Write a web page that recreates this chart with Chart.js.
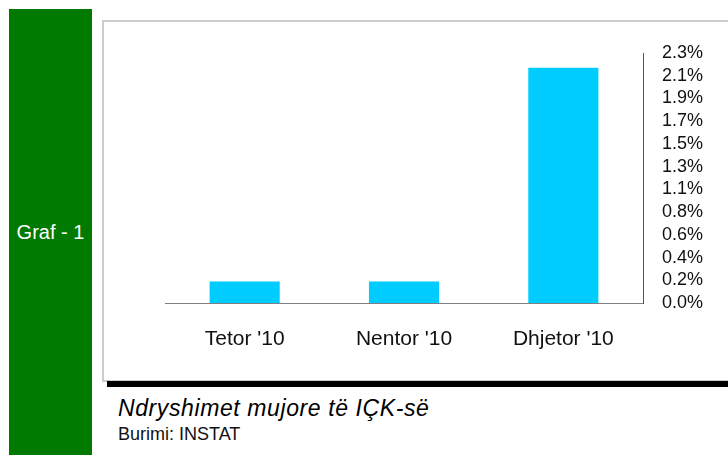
<!DOCTYPE html>
<html>
<head>
<meta charset="utf-8">
<script src="https://cdn.jsdelivr.net/npm/chart.js@4.4.0/dist/chart.umd.min.js"></script>
<style>
  body { margin: 0; width: 728px; height: 455px; background: #fff; position: relative; overflow: hidden; font-family: "Liberation Sans", Arial, sans-serif; }
  #side { position: absolute; left: 9px; top: 9px; width: 83px; height: 446px; background: #007a00; }
  #side span { position: absolute; left: 0; width: 83px; top: 213px; line-height: 1; text-align: center; color: #fff; font-size: 20px; }
  #panel { position: absolute; left: 102px; top: 20px; width: 640px; height: 362px; border: 2px solid #cccccc; box-sizing: border-box; }
  #rule { position: absolute; left: 107px; top: 381px; width: 621px; height: 6px; background: #000; }
  #title { position: absolute; left: 118px; top: 397px; line-height: 1; font-size: 23px; letter-spacing: 0.6px; font-style: italic; color: #000; }
  #source { position: absolute; left: 118px; top: 425px; line-height: 1; font-size: 18px; color: #111; }
  #wrap { position: absolute; left: 104px; top: 22px; width: 624px; height: 358px; }
</style>
</head>
<body>
<div id="side"><span>Graf - 1</span></div>
<div id="panel"></div>
<div id="wrap"><canvas id="c"></canvas></div>
<div id="rule"></div>
<div id="title">Ndryshimet mujore të IÇK-së</div>
<div id="source">Burimi: INSTAT</div>
<script>
// monthly change in CPI
const months = ["Tetor '10", "Nentor '10", "Dhjetor '10"];
const changes = [0.2, 0.2, 2.2];
const yTickLabels = ['0.0%', '0.2%', '0.4%', '0.6%', '0.8%', '1.1%', '1.3%', '1.5%', '1.7%', '1.9%', '2.1%', '2.3%'];
const yStep = 0.2125;
const yMax = yStep * (yTickLabels.length - 1);

new Chart(document.getElementById('c'), {
    type: 'bar',
    data: {
        labels: months,
        datasets: [{ data: changes, backgroundColor: '#00ccff', barPercentage: 0.44, categoryPercentage: 1 }]
    },
    options: {
        responsive: true, maintainAspectRatio: false, animation: false,
        layout: { padding: { left: 61, top: 31, right: 0, bottom: 0 } },
        plugins: { legend: { display: false }, tooltip: { enabled: false } },
        scales: {
            x: {
                grid: { display: false, drawTicks: false },
                border: { color: '#808080', width: 1 },
                ticks: { color: '#111', padding: 24, font: { family: 'Liberation Sans', size: 21 } },
                afterFit: s => { s.height = 77; }
            },
            y: {
                position: 'right', min: 0, max: yMax,
                grid: { display: false, drawTicks: false },
                border: { color: '#555', width: 1 },
                afterBuildTicks: s => { s.ticks = yTickLabels.map((_, i) => ({ value: i * yStep })); },
                ticks: {
                    autoSkip: false, color: '#111', padding: 19,
                    font: { family: 'Liberation Sans', size: 18 },
                    callback: (v, i) => yTickLabels[i]
                },
                afterFit: s => { s.width = 85; }
            }
        }
    }
});
</script>
</body>
</html>
